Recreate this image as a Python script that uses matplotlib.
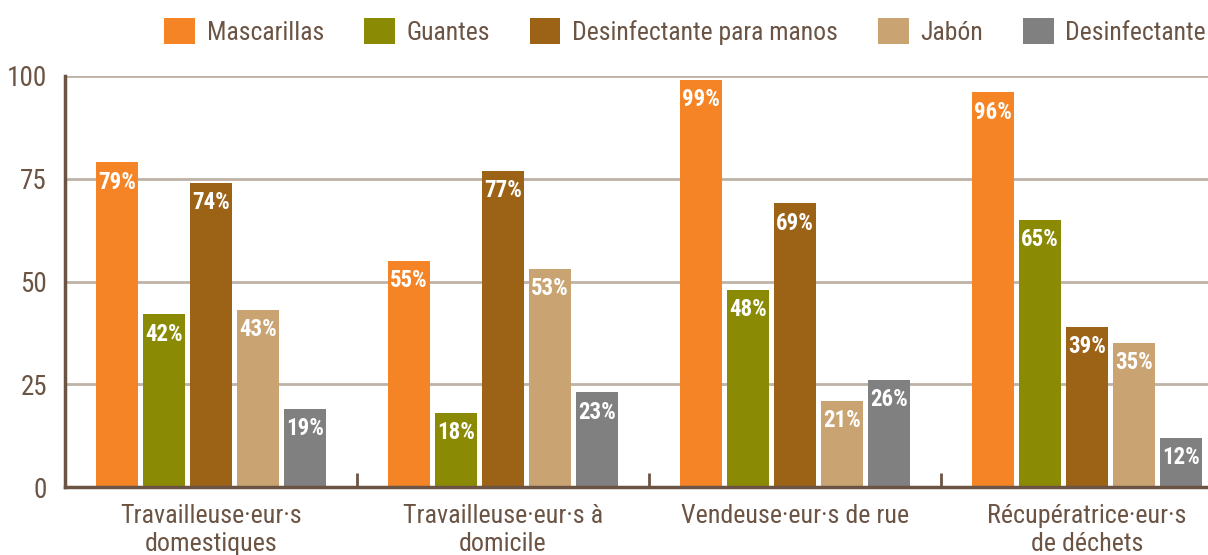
import matplotlib
matplotlib.use("Agg")
import matplotlib.pyplot as plt
from matplotlib import font_manager
import numpy as np

# data
categories = ["Travailleuse·eur·s\ndomestiques", "Travailleuse·eur·s à\ndomicile",
              "Vendeuse·eur·s de rue", "Récupératrice·eur·s\nde déchets"]
series = ["Mascarillas", "Guantes", "Desinfectante para manos", "Jabón", "Desinfectante"]
mascarillas = [79, 55, 99, 96]
guantes = [42, 18, 48, 65]
desinf_manos = [74, 77, 69, 39]
jabon = [43, 53, 21, 35]
desinfectante = [19, 23, 26, 12]
yticks = [0, 25, 50, 75, 100]

values = [mascarillas, guantes, desinf_manos, jabon, desinfectante]
colors = ["#F58426", "#8A8A04", "#9C6215", "#C9A472", "#808080"]
txt = "#6B5444"
grid_c = "#BFB2A6"

names = {f.name for f in font_manager.fontManager.ttflist}
font = "Roboto"
for cand in ["Roboto Condensed", "Liberation Sans Narrow", "Open Sans Condensed"]:
    if cand in names:
        font = cand
        break
plt.rcParams["font.family"] = [font, "DejaVu Sans"]

W, H = 1208, 555
fig = plt.figure(figsize=(W / 100, H / 100), dpi=100)
left, right, bottom, top = 65, 1233, 487, 76
ax = fig.add_axes([left / W, 1 - bottom / H, (right - left) / W, (bottom - top) / H])

x = np.arange(len(categories))
pitch, bw = 0.161, 0.147
for i, (name, vals, c) in enumerate(zip(series, values, colors)):
    pos = x + (i - 2) * pitch
    bars = ax.bar(pos, vals, bw, color=c, label=name, zorder=3)
    for b, v in zip(bars, vals):
        ax.text(b.get_x() + b.get_width() / 2, v - 2.0, f"{v}%", ha="center", va="top",
                color="white", fontsize=16.5, fontweight="bold", zorder=4)

ax.set_xlim(-0.5, 3.5)
ax.set_ylim(0, 100)
ax.set_yticks(yticks)
ax.set_yticklabels([str(t) for t in yticks], fontsize=19.5, color=txt)
ax.tick_params(axis="y", length=0, pad=13)
ax.set_xticks(x)
ax.set_xticklabels(categories, fontsize=18.7, color=txt, linespacing=1.25)
ax.tick_params(axis="x", length=0, pad=12)
ax.set_xticks([0.5, 1.5, 2.5], minor=True)
ax.tick_params(axis="x", which="minor", direction="in", length=10, width=2, color=txt)

ax.grid(axis="y", color=grid_c, linewidth=2, zorder=0)
for s in ["top", "right"]:
    ax.spines[s].set_visible(False)
for s in ["left", "bottom"]:
    ax.spines[s].set_color(txt)
    ax.spines[s].set_linewidth(2.5)
    ax.spines[s].set_zorder(5)

fig.legend(loc="upper right", bbox_to_anchor=(1.013, 1.0), ncol=5, frameon=False,
           fontsize=18.5, labelcolor=txt, handlelength=1.2, handleheight=1.2,
           handletextpad=0.45, columnspacing=1.55, borderaxespad=0.3)

fig.savefig("out.png", dpi=100)
